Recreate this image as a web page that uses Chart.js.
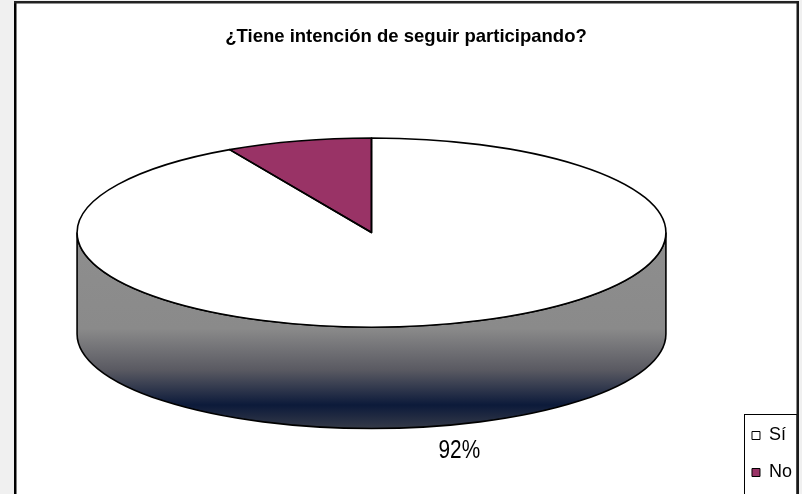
<!DOCTYPE html>
<html>
<head>
<meta charset="utf-8">
<script src="https://cdn.jsdelivr.net/npm/chart.js@4/dist/chart.umd.min.js"></script>
<style>
  html, body { margin: 0; padding: 0; background: #f0f0f0; }
  canvas { display: block; }
</style>
</head>
<body>
<canvas id="c" width="802" height="494"></canvas>
<script>
// ---- data ----
const titleText = '¿Tiene intención de seguir participando?';
const categories = ['Sí', 'No'];
const values = [92, 8];
const sliceColors = ['#ffffff', '#993366'];
const labelledSlices = [true, false];

// ---- 3D look (ratios relative to the pie radius computed by Chart.js) ----
const SX = 1.397, SY = 0.449, DZ = 0.481;

function geom(chart) {
  const arc = chart.getDatasetMeta(0).data[0];
  const r = arc.outerRadius;
  const rx = r * SX, ry = r * SY, depth = r * DZ;
  return { arc, ox: arc.x, oy: arc.y, cx: arc.x, cy: arc.y - depth / 2, rx, ry, depth };
}

const pie3d = {
  id: 'pie3d',
  beforeDraw(chart) {
    const ctx = chart.ctx;
    ctx.save();
    ctx.fillStyle = '#f0f0f0';
    ctx.fillRect(0, 0, chart.width, chart.height);
    ctx.fillStyle = '#ffffff';
    ctx.fillRect(15, 2, 783, chart.height + 10);
    ctx.restore();
  },
  beforeDatasetsDraw(chart) {
    const ctx = chart.ctx;
    const g = geom(chart);
    ctx.save();
    const grad = ctx.createLinearGradient(0, g.cy, 0, g.cy + g.ry + g.depth);
    grad.addColorStop(0, '#8e8e8e');
    grad.addColorStop(0.49, '#8a8a8a');
    grad.addColorStop(0.70, '#5a5a62');
    grad.addColorStop(0.88, '#0c1a3a');
    grad.addColorStop(1, '#353a48');
    ctx.beginPath();
    ctx.moveTo(g.cx + g.rx, g.cy);
    ctx.ellipse(g.cx, g.cy, g.rx, g.ry, 0, 0, Math.PI, false);
    ctx.lineTo(g.cx - g.rx, g.cy + g.depth);
    ctx.ellipse(g.cx, g.cy + g.depth, g.rx, g.ry, 0, Math.PI, 0, true);
    ctx.closePath();
    ctx.fillStyle = grad;
    ctx.fill();
    ctx.lineWidth = 1.6;
    ctx.strokeStyle = '#000';
    ctx.stroke();
    ctx.restore();
    ctx.save();
    ctx.translate(g.cx, g.cy);
    ctx.scale(SX, SY);
    ctx.translate(-g.ox, -g.oy);
  },
  afterDatasetsDraw(chart) {
    const ctx = chart.ctx;
    ctx.restore();
    const g = geom(chart);
    const meta = chart.getDatasetMeta(0);
    ctx.save();
    ctx.lineWidth = 1.6;
    ctx.strokeStyle = '#000';
    ctx.lineJoin = 'round';
    meta.data.forEach(a => {
      ctx.beginPath();
      ctx.moveTo(g.cx, g.cy);
      ctx.ellipse(g.cx, g.cy, g.rx, g.ry, 0, a.startAngle, a.endAngle, false);
      ctx.closePath();
      ctx.stroke();
    });
    const total = values.reduce((s, v) => s + v, 0);
    ctx.fillStyle = '#000';
    ctx.font = '26px "Liberation Sans", Arial, sans-serif';
    ctx.textAlign = 'center';
    ctx.textBaseline = 'middle';
    meta.data.forEach((a, i) => {
      if (!labelledSlices[i]) return;
      const mid = (a.startAngle + a.endAngle) / 2;
      const x = g.cx + g.rx * Math.cos(mid) * 1.2;
      const y = g.cy + g.ry * Math.sin(mid) + g.depth + 25;
      ctx.save();
      ctx.translate(x, y);
      ctx.scale(0.8, 1);
      ctx.fillText(Math.round(values[i] / total * 100) + '%', 0, 0);
      ctx.restore();
    });
    ctx.restore();
  },
  afterDraw(chart) {
    const ctx = chart.ctx;
    const lg = chart.legend;
    ctx.save();
    if (lg && lg.legendHitBoxes && lg.legendHitBoxes.length) {
      const hb = lg.legendHitBoxes[0];
      const lx = Math.round(hb.left) - 7.5;
      ctx.strokeStyle = '#000';
      ctx.lineWidth = 1;
      ctx.strokeRect(lx, Math.round(hb.top) - 12.5, 797 - lx, 200);
    }
    ctx.fillStyle = '#000';
    ctx.fillRect(14, 1, 2.5, chart.height);
    ctx.fillStyle = '#222';
    ctx.fillRect(14, 1, 785, 2.5);
    ctx.fillStyle = '#1a1a1a';
    ctx.fillRect(796.5, 1, 2.5, chart.height);
    ctx.restore();
  }
};

new Chart(document.getElementById('c'), {
  type: 'pie',
  data: {
    labels: categories,
    datasets: [{
      data: values,
      backgroundColor: sliceColors,
      borderWidth: 0,
      offset: 0,
      hoverOffset: 0
    }]
  },
  options: {
    responsive: false,
    animation: false,
    events: [],
    layout: { padding: { left: 10, right: 0, top: 0, bottom: -6.5 } },
    plugins: {
      title: {
        display: true,
        text: titleText,
        color: '#000',
        font: { family: '"Liberation Sans", Arial, sans-serif', size: 18.5, weight: 'bold' },
        padding: { top: 26, bottom: 24.3 }
      },
      legend: {
        display: true,
        position: 'right',
        align: 'end',
        labels: {
          color: '#000',
          font: { family: '"Liberation Sans", Arial, sans-serif', size: 18 },
          boxWidth: 8,
          boxHeight: 8,
          padding: 19,
          generateLabels(chart) {
            const items = Chart.overrides.pie.plugins.legend.labels.generateLabels(chart);
            items.forEach(it => { it.strokeStyle = '#000'; it.lineWidth = 1; });
            return items;
          }
        }
      },
      tooltip: { enabled: false }
    }
  },
  plugins: [pie3d]
});
</script>
</body>
</html>
